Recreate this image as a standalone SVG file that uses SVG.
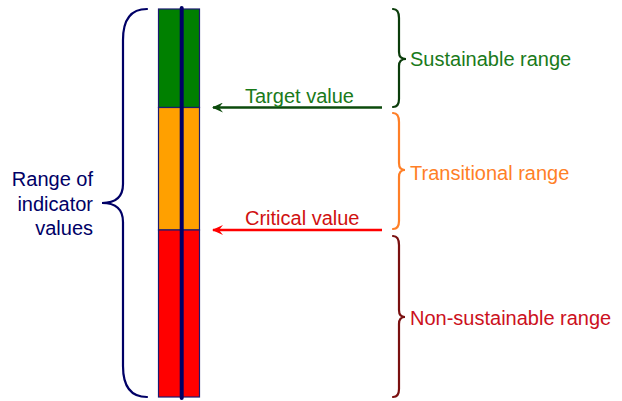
<svg xmlns="http://www.w3.org/2000/svg" width="622" height="401" viewBox="0 0 622 401">
<style>
text{font-family:"Liberation Sans",Arial,sans-serif;font-size:20px}
.seg{stroke:#1a1a70;stroke-width:1.2}
.brace{fill:none;stroke-width:2.2;stroke-linecap:round}
.arrow{fill:none;stroke-width:2.5}
</style>
<defs>
<marker id="ahg" markerWidth="12" markerHeight="10" refX="10" refY="5" orient="auto" markerUnits="userSpaceOnUse"><path d="M0,0 L11,5 L0,10 L4,5 Z" fill="#0b4a0b"/></marker>
<marker id="ahr" markerWidth="12" markerHeight="10" refX="10" refY="5" orient="auto" markerUnits="userSpaceOnUse"><path d="M0,0 L11,5 L0,10 L4,5 Z" fill="#ff0000"/></marker>
</defs>
<g id="bar">
<rect class="seg" x="158.5" y="9" width="41" height="98.5" fill="#008000"/>
<rect class="seg" x="158.5" y="107.5" width="41" height="122.5" fill="#ffa000"/>
<rect class="seg" x="158.5" y="230" width="41" height="167" fill="#ff0000"/>
<line x1="181.7" y1="8" x2="181.7" y2="398" stroke="#000066" stroke-width="4" stroke-linecap="round"/>
</g>
<g id="indicator-range">
<path class="brace" stroke="#000066" d="M147,9 Q123,9 123,40 L123,184 Q123,203 102,203 Q123,203 123,222 L123,366 Q123,397 147,397"/>
<text x="93" y="186" text-anchor="end" fill="#000066">Range of</text>
<text x="93" y="211" text-anchor="end" fill="#000066">indicator</text>
<text x="93" y="235" text-anchor="end" fill="#000066">values</text>
</g>
<g id="sustainable">
<path class="brace" stroke="#0b3d0b" d="M393,9 Q399,9 399,18 L399,52 Q399,59 406,59 Q399,59 399,66 L399,99 Q399,107 393,107"/>
<text x="410" y="65.5" fill="#1a7a1a">Sustainable range</text>
</g>
<g id="transitional">
<path class="brace" stroke="#ff7f27" d="M393,113 Q399,113 399,122 L399,163 Q399,170 405,170 Q399,170 399,177 L399,221 Q399,229 393,229"/>
<text x="410" y="179.5" fill="#ff7f27">Transitional range</text>
</g>
<g id="non-sustainable">
<path class="brace" stroke="#7a1010" d="M393,236 Q399,236 399,245 L399,310 Q399,317 405,317 Q399,317 399,324 L399,389 Q399,397 393,397"/>
<text x="410" y="325" fill="#cc1020">Non-sustainable range</text>
</g>
<g id="connectors">
<line class="arrow" x1="382" y1="107.5" x2="213" y2="107.5" stroke="#0b4a0b" marker-end="url(#ahg)"/>
<text x="245" y="103" fill="#1a7a1a">Target value</text>
<line class="arrow" x1="382" y1="230" x2="213" y2="230" stroke="#ff0000" marker-end="url(#ahr)"/>
<text x="245" y="224.5" fill="#d01010">Critical value</text>
</g>
</svg>
